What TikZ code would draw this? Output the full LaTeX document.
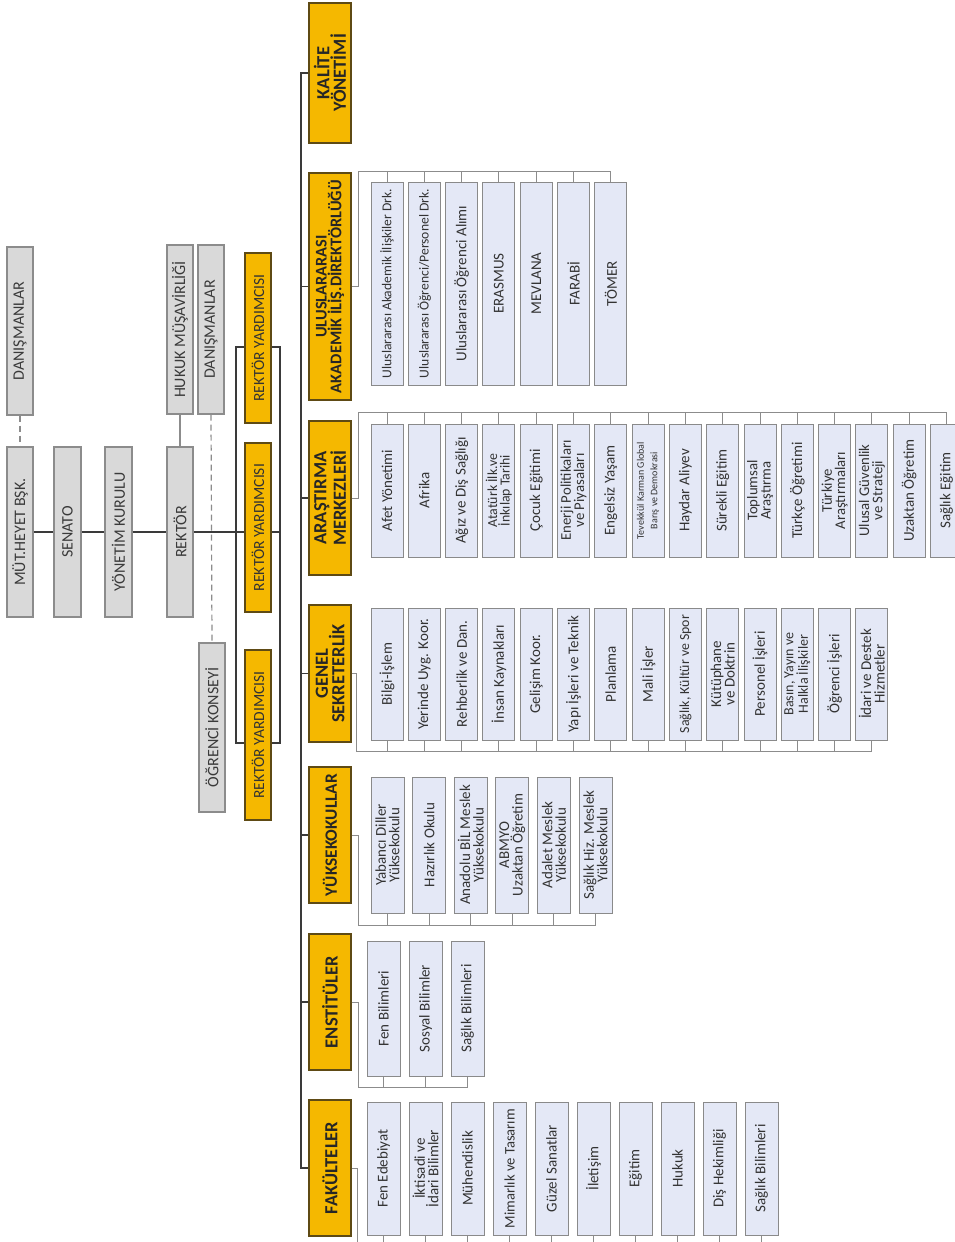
\documentclass[tikz,border=0pt]{standalone}
\usepackage{fontspec}
\usepackage{graphicx}
\setmainfont{Carlito}
\definecolor{greyfill}{HTML}{D9D9D9}
\definecolor{greyline}{HTML}{8C8C8C}
\definecolor{greytext}{HTML}{3A3A3A}
\definecolor{yfill}{HTML}{F5B800}
\definecolor{yline}{HTML}{5E4A14}
\definecolor{cfill}{HTML}{E4E8F6}
\definecolor{cline}{HTML}{8A8A8A}
\definecolor{trunkc}{HTML}{3A3A3A}
\definecolor{busc}{HTML}{8C8C8C}
\newsavebox\fitsb
\newcommand\fitt[3]{\sbox\fitsb{\def\\{\cr}\vbox{\halign{\hfil##\hfil\cr#3\crcr}}}%
  \pgfmathsetmacro\fitsc{min(1,(#1)/\the\wd\fitsb,(#2)/(\the\ht\fitsb+\the\dp\fitsb))}%
  \scalebox{\fitsc}{\usebox\fitsb}}
\newcommand\obox[8]{\node[#1, minimum width={(#6)-(#4)}, minimum height={(#5)-(#3)}] (#2) at ({((#3)+(#5))/2},{((#4)+(#6))/2}) {\fitt{(#6)-(#4)-14}{#8}{#7}};}
\begin{document}
\begin{tikzpicture}[x=1pt,y=-1pt,
  grey/.style={draw=greyline, fill=greyfill, line width=1.2pt, rotate=90, inner sep=0pt, text=greytext, font=\fontsize{16}{16}\selectfont},
  head/.style={draw=yline, fill=yfill, line width=1.4pt, rotate=90, inner sep=0pt, text=black!85, font=\bfseries\fontsize{18.5}{16.5}\selectfont},
  ryd/.style={draw=yline, fill=yfill, line width=1.2pt, rotate=90, inner sep=0pt, text=black!80, font=\fontsize{15.5}{16}\selectfont},
  child/.style={draw=cline, fill=cfill, line width=1pt, rotate=90, inner sep=0pt, text=black!80, font=\fontsize{15}{13.5}\selectfont},
  trunk/.style={draw=trunkc, line width=1.5pt},
  bus/.style={draw=busc, line width=1pt},
  dsh/.style={draw=greyline, line width=1.2pt, dash pattern=on 6pt off 4pt}]
\useasboundingbox (0,0) rectangle (954,1242);
\fill[white] (0,0) rectangle (954,1242);

% ---- left governance boxes
\obox{grey}{danis1}{7}{247}{33}{415}{DANIŞMANLAR}{17}
\obox{grey}{mut}{7}{447}{33}{617}{MÜT.HEYET BŞK.}{17}
\obox{grey}{senato}{54}{447}{81}{617}{SENATO}{17}
\obox{grey}{yonetim}{105}{447}{132}{617}{YÖNETİM KURULU}{17}
\obox{grey}{rektor}{167}{447}{193}{617}{REKTÖR}{17}
\obox{grey}{hukuk}{167}{245}{193}{414}{HUKUK MÜŞAVİRLİĞİ}{17}
\obox{grey}{danis2}{198}{245}{224}{414}{DANIŞMANLAR}{17}
\obox{grey}{ogr}{199}{643}{225}{812}{ÖĞRENCİ KONSEYİ}{17}
\obox{ryd}{ry1}{245}{253}{271}{423}{REKTÖR YARDIMCISI}{17}
\obox{ryd}{ry2}{245}{443}{271}{612}{REKTÖR YARDIMCISI}{17}
\obox{ryd}{ry3}{245}{650}{271}{820}{REKTÖR YARDIMCISI}{17}

\coordinate (bl1) at (236,347);
\coordinate (bl2) at (236,743);
\coordinate (br1) at (280,347);
\coordinate (br2) at (280,743);

\draw[dsh] (danis1.west) -- (mut.east);
\draw[dsh] (danis2.west) -- (ogr.east);
\draw[bus, line width=1.2pt] (rektor.east) -- (hukuk.west);
\draw[trunk] (mut.south) -- (senato.north);
\draw[trunk] (senato.south) -- (yonetim.north);
\draw[trunk] (yonetim.south) -- (rektor.north);
\draw[trunk] (rektor.south) -- (rektor.south -| ry2.north);
\draw[trunk] (rektor.south -| ry2.south) -- (rektor.south -| br1);
\draw[trunk] (ry1.north |- bl1) -- (bl1) -- (bl2) -- (ry3.north |- bl2);
\draw[trunk] (ry1.south |- br1) -- (br1) -- (br2) -- (ry3.south |- br2);

% ---- unit heads
\obox{head}{kalite}{309}{3}{351}{143}{KALİTE\\YÖNETİMİ}{35}
\obox{head}{ulus}{309}{173}{351}{400}{ULUSLARARASI\\AKADEMİK İLİŞ.DİREKTÖRLÜĞÜ}{35}
\obox{head}{aras}{309}{421}{351}{575}{ARAŞTIRMA\\MERKEZLERİ}{35}
\obox{head}{genel}{309}{605}{351}{742}{GENEL\\SEKRETERLİK}{35}
\obox{head}{yuksek}{309}{767}{351}{903}{YÜKSEKOKULLAR}{35}
\obox{head}{enst}{309}{934}{351}{1070}{ENSTİTÜLER}{35}
\obox{head}{fak}{309}{1100}{351}{1236}{FAKÜLTELER}{35}

\coordinate (tr) at (301,0);
\draw[trunk] (kalite.north) -- (kalite.north -| tr) -- (fak.north -| tr) -- (fak.north);
\foreach \h in {ulus,aras,genel,yuksek,enst}{\draw[trunk] (\h.north) -- (\h.north -| tr);}

% ---- children
\foreach \t [count=\i] in {Uluslararası Akademik İlişkiler Drk., Uluslararası Öğrenci/Personel Drk., Uluslararası Öğrenci Alımı, ERASMUS, MEVLANA, FARABİ, TÖMER}{
  \pgfmathsetmacro\xl{371+37.3*(\i-1)}
  \obox{child}{u\i}{\xl}{182}{\xl+32}{385}{\t}{26}
}
\foreach \t [count=\i] in {Afet Yönetimi, Afrika, Ağız ve Diş Sağlığı, {Atatürk İlk.ve\\İnkılap Tarihi}, Çocuk Eğitimi, {Enerji Politikaları\\ve Piyasaları}, Engelsiz Yaşam, {\fontsize{10}{10}\selectfont Tevekkül Karman Global\\\fontsize{10}{10}\selectfont Barış ve Demokrasi}, Haydar Aliyev, Sürekli Eğitim, {Toplumsal\\Araştırma}, Türkçe Öğretimi, {Türkiye\\Araştırmaları}, {Ulusal Güvenlik\\ve Strateji}, Uzaktan Öğretim, Sağlık Eğitim}{
  \pgfmathsetmacro\xl{371+37.3*(\i-1)}
  \obox{child}{a\i}{\xl}{424}{\xl+32}{557}{\t}{26}
}
\foreach \t [count=\i] in {Bilgi-İşlem, Yerinde Uyg. Koor., Rehberlik ve Dan., İnsan Kaynakları, Gelişim Koor., Yapı İşleri ve Teknik, Planlama, Mali İşler, {Sağlık, Kültür ve Spor}, {Kütüphane\\ve Doktrin}, Personel İşleri, {Basın, Yayın ve\\Halkla İlişkiler}, Öğrenci İşleri, {İdari ve Destek\\Hizmetler}}{
  \pgfmathsetmacro\xl{371+37.3*(\i-1)}
  \obox{child}{g\i}{\xl}{608}{\xl+32}{740}{\t}{26}
}
\foreach \t [count=\i] in {{Yabancı Diller\\Yüksekokulu}, Hazırlık Okulu, {Anadolu BİL Meslek\\Yüksekokulu}, {ABMYO\\Uzaktan Öğretim}, {Adalet Meslek\\Yüksekokulu}, {Sağlık Hiz. Meslek\\Yüksekokulu}}{
  \pgfmathsetmacro\xl{371+41.6*(\i-1)}
  \obox{child}{y\i}{\xl}{777}{\xl+33}{913}{\t}{27}
}
\foreach \t [count=\i] in {Fen Bilimleri, Sosyal Bilimler, Sağlık Bilimleri}{
  \pgfmathsetmacro\xl{367+42*(\i-1)}
  \obox{child}{e\i}{\xl}{941}{\xl+33}{1076}{\t}{27}
}
\foreach \t [count=\i] in {Fen Edebiyat, {İktisadi ve\\İdari Bilimler}, Mühendislik, Mimarlık ve Tasarım, Güzel Sanatlar, İletişim, Eğitim, Hukuk, Diş Hekimliği, Sağlık Bilimleri}{
  \pgfmathsetmacro\xl{367+42*(\i-1)}
  \obox{child}{f\i}{\xl}{1102}{\xl+33}{1235}{\t}{27}
}

% ---- buses
\coordinate (ubus) at (358,171);
\coordinate (abus) at (358,412);
\coordinate (gbus) at (356,751);
\coordinate (ybus) at (358,925);
\coordinate (ebus) at (358,1087);
\coordinate (fbus) at (357,1246);
\draw[bus] (ulus.south) -| (ubus) -- (u7.east |- ubus);
\foreach \i in {1,...,7}{\draw[bus] (u\i.east) -- (u\i.east |- ubus);}
\draw[bus] (aras.south) -| (abus) -- (a16.east |- abus);
\foreach \i in {1,...,16}{\draw[bus] (a\i.east) -- (a\i.east |- abus);}
\draw[bus] (genel.south) -| (gbus) -- (g14.west |- gbus);
\foreach \i in {1,...,14}{\draw[bus] (g\i.west) -- (g\i.west |- gbus);}
\draw[bus] (yuksek.south) -| (ybus) -- (y6.west |- ybus);
\foreach \i in {1,...,6}{\draw[bus] (y\i.west) -- (y\i.west |- ybus);}
\draw[bus] (enst.south) -| (ebus) -- (e3.west |- ebus);
\foreach \i in {1,...,3}{\draw[bus] (e\i.west) -- (e\i.west |- ebus);}
\draw[bus] (fak.south) -| (fbus) -- (f10.west |- fbus);
\foreach \i in {1,...,10}{\draw[bus] (f\i.west) -- (f\i.west |- fbus);}
\end{tikzpicture}
\end{document}
